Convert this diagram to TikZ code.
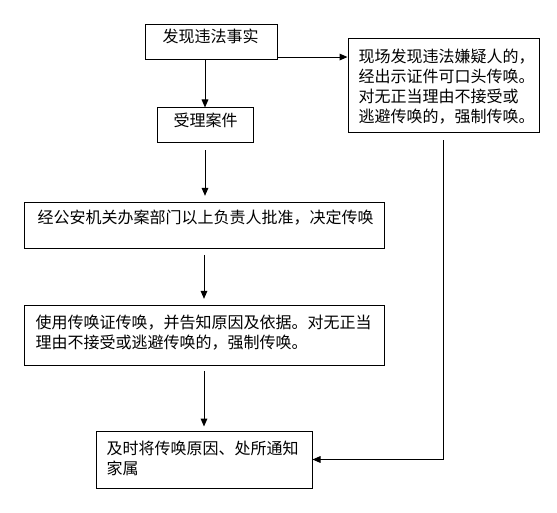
\documentclass[tikz,border=0pt]{standalone}
\usepackage{fontspec}
\setmainfont{Noto Sans CJK SC}
\usetikzlibrary{arrows.meta}

\begin{document}
\begin{tikzpicture} [x = 0.75pt, y = -0.75pt, line width = 0.75pt,
  box/.style = {draw, inner sep = 0pt},
  txt/.style = {anchor = base west, inner sep = 0pt, align = left, font = \fontsize{12pt}{15pt}\selectfont},
  arr/.style = {-{Triangle[length = 6pt, width = 5pt]}}]
\useasboundingbox (0, 0) rectangle (557, 513);
\node[box, minimum width = 99pt, minimum height = 26.25pt] (find) at (211, 42.5){};
\node[box, minimum width = 143.25pt, minimum height = 70.5pt] (spot) at (443.5, 86){};
\node[box, minimum width = 72pt, minimum height = 26.25pt] (accept) at (205, 125.5){};
\node[box, minimum width = 270pt, minimum height = 34.5pt] (approve) at (204, 226){};
\node[box, minimum width = 270pt, minimum height = 44.25pt] (summon) at (204, 335.5){};
\node[box, minimum width = 162pt, minimum height = 42.75pt] (notify) at (204, 459.5){};
% multi-line texts sit on the baseline of their last line
\node[txt] (find-t) at (162, 43){发现违法事实};
\node[txt] (spot-t) at (358, 123){现场发现违法嫌疑人的，\\经出示证件可口头传唤。\\对无正当理由不接受或\\逃避传唤的，强制传唤。};
\node[txt] (accept-t) at (173, 127){受理案件};
\node[txt] (approve-t) at (37, 224){经公安机关办案部门以上负责人批准，决定传唤};
\node[txt] (summon-t) at (35, 349){使用传唤证传唤，并告知原因及依据。对无正当\\理由不接受或逃避传唤的，强制传唤。};
\node[txt] (notify-t) at (106, 474){及时将传唤原因、处所通知\\家属};
\draw[arr] (find.south -| accept.north) -- (accept.north);
\draw[arr] ([yshift = -10.9pt]find.east) -- ([yshift = -10.9pt]find.east -| spot.west);
\draw[arr, shorten <= 5pt, shorten >= 5pt] (accept.south) -- (accept.south |- approve.north);
\draw[arr, shorten <= 4pt, shorten >= 5pt] (approve.south) -- (summon.north);
\draw[arr, shorten <= 4pt, shorten >= 3pt] (summon.south) -- (notify.north);
\draw[arr, shorten <= 5pt] (spot.south) |- (notify.east);
\end{tikzpicture}
\end{document}
